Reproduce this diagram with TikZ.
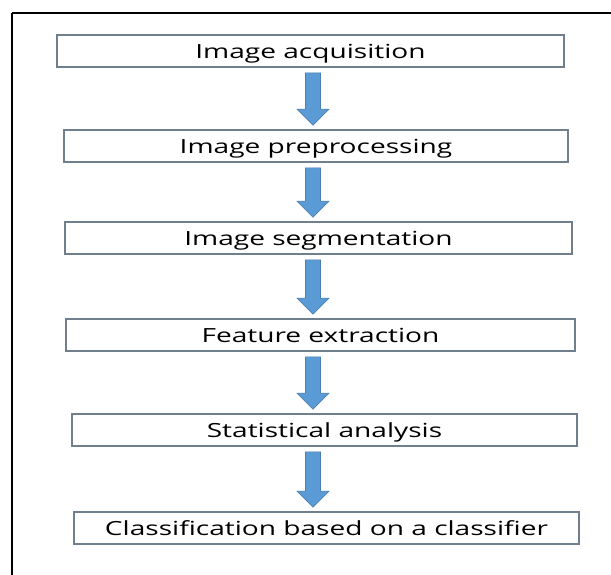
\documentclass[tikz,border=0pt]{standalone}
\usepackage{fontspec}
\setmainfont{Open Sans}[FakeStretch=1.44]
\usetikzlibrary{calc}
\definecolor{boxline}{HTML}{6F7F8E}
\definecolor{arrowfill}{HTML}{5B9BD5}
\definecolor{arrowline}{HTML}{4A7FB0}
\tikzset{
  stage/.style={draw=boxline, line width=1.7pt, fill=white, minimum height=32pt, inner sep=0pt,
    text height=18.5pt, text depth=4pt, font=\fontsize{19.5}{22}\selectfont},
  blockarrow/.style={fill=arrowfill, draw=arrowline, line width=0.6pt,
    to path={let \p1=(\tikztostart), \p2=(\tikztotarget) in
      (\x1-7.5pt,\y1) -- (\x1+7.5pt,\y1) -- (\x1+7.5pt,\y2+16pt) -- (\x1+16pt,\y2+16pt)
      -- (\x1,\y2) -- (\x1-16pt,\y2+16pt) -- (\x1-7.5pt,\y2+16pt) -- cycle}}
}
\begin{document}
\begin{tikzpicture}[x=1pt,y=-1pt]
\useasboundingbox (0,0) rectangle (611,574);
\fill[white] (0,0) rectangle (611,574);
\draw[line width=2.6pt] (12,13) -- (625,13);
\draw[line width=2.6pt] (12,13) -- (12,590);
\coordinate (ax) at (313,0);
\node[stage, minimum width=507pt] (s1) at (310.5,51) {Image acquisition};
\node[stage, minimum width=504pt] (s2) at (316,146) {Image preprocessing};
\node[stage, minimum width=507pt] (s3) at (318.5,238) {Image segmentation};
\node[stage, minimum width=509pt] (s4) at (320.5,335) {Feature extraction};
\node[stage, minimum width=505pt] (s5) at (324.5,430) {Statistical analysis};
\node[stage, minimum width=505pt] (s6) at (326.5,528) {Classification based on a classifier};
\foreach \a/\b in {s1/s2,s2/s3,s3/s4,s4/s5,s5/s6}{
  \draw[blockarrow] ($(\a.south -| ax)+(0,5)$) to ($(\b.north -| ax)+(0,-4)$);
}
\end{tikzpicture}
\end{document}
